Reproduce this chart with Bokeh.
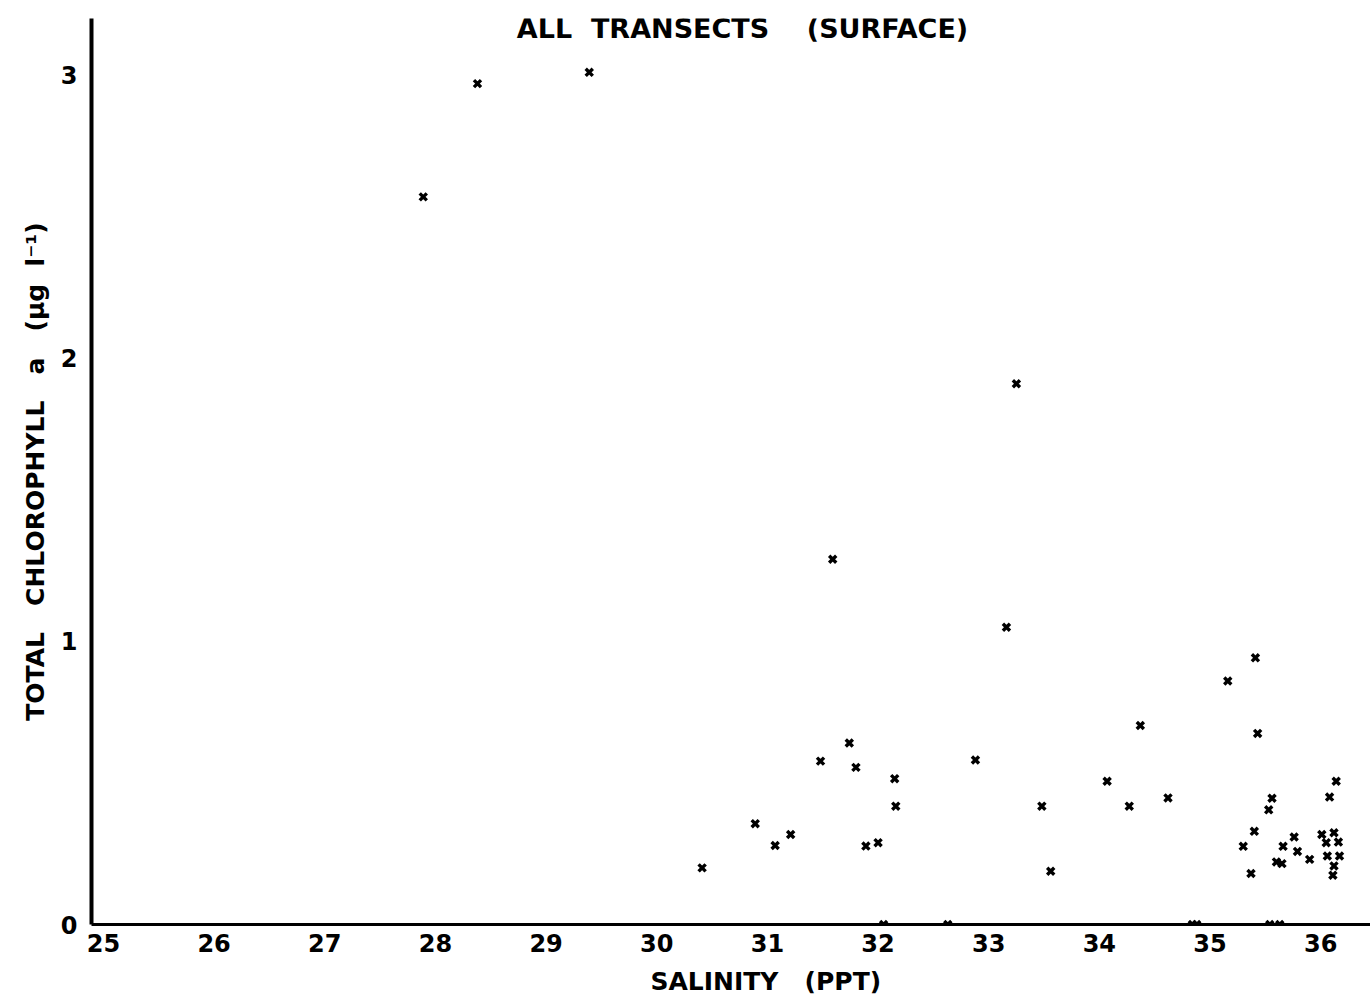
from bokeh.plotting import figure
from bokeh.models import Range1d, FixedTicker, Label
from bokeh.embed import file_html
from bokeh.resources import INLINE

# Data (salinity in ppt, total chlorophyll a in ug/l)
salinity = [27.89, 28.38, 29.39, 33.25, 31.59, 33.16,
            30.41, 30.89, 31.07, 31.21, 31.48, 31.74, 31.80, 31.89, 32.00,
            32.15, 32.16, 32.88, 33.48, 33.56, 34.07, 34.27, 34.37, 34.62,
            35.16, 35.41, 35.43, 35.56, 35.53, 35.40, 35.30, 35.37, 35.66,
            35.60, 35.65, 35.76, 35.79, 35.90, 36.01, 36.05, 36.12, 36.16,
            36.06, 36.17, 36.12, 36.11, 36.08, 36.14,
            32.05, 32.63, 34.84, 34.88, 35.54, 35.63]
chlorophyll = [2.57, 2.97, 3.01, 1.91, 1.29, 1.05,
               0.20, 0.356, 0.279, 0.318, 0.577, 0.641, 0.555, 0.277, 0.289,
               0.515, 0.418, 0.581, 0.418, 0.188, 0.506, 0.418, 0.703, 0.447,
               0.860, 0.942, 0.675, 0.446, 0.405, 0.329, 0.276, 0.180, 0.276,
               0.221, 0.215, 0.309, 0.258, 0.230, 0.318, 0.289, 0.324, 0.291,
               0.242, 0.242, 0.207, 0.174, 0.450, 0.506,
               0.0, 0.0, 0.0, 0.0, 0.0, 0.0]
x_ticks = [25, 26, 27, 28, 29, 30, 31, 32, 33, 34, 35, 36]
y_ticks = [0, 1, 2, 3]

NB = "\u00a0"
FONT = "DejaVu Sans"

p = figure(width=1370, height=1006, output_backend="svg", toolbar_location=None,
           x_range=Range1d(24.892, 36.45), y_range=Range1d(0, 3.2))
p.min_border_left = 91
p.min_border_right = 0
p.min_border_top = 18
p.min_border_bottom = 82
p.outline_line_color = None
p.background_fill_color = "white"
p.border_fill_color = "white"
p.xgrid.visible = False
p.ygrid.visible = False

p.scatter(salinity, chlorophyll, marker="x", size=10, line_width=3.4, color="black")

# axes
p.xaxis.ticker = FixedTicker(ticks=x_ticks)
p.yaxis.ticker = FixedTicker(ticks=y_ticks)
for ax in (p.xaxis, p.yaxis):
    ax.major_tick_line_color = None
    ax.minor_tick_line_color = None
    ax.major_label_text_font = FONT
    ax.major_label_text_font_style = "bold"
    ax.major_label_text_font_size = "24px"
    ax.major_label_text_color = "black"
    ax.axis_label_text_font = FONT
    ax.axis_label_text_font_style = "bold"
    ax.axis_label_text_color = "black"
    ax.axis_line_color = "black"
p.xaxis.axis_line_width = 3
p.yaxis.axis_line_width = 4
p.xaxis.major_label_standoff = 3
p.yaxis.major_label_standoff = 8
p.xaxis.axis_label = NB * 8 + "SALINITY" + NB * 3 + "(PPT)"
p.xaxis.axis_label_text_font_size = "25px"
p.xaxis.axis_label_standoff = 12
p.yaxis.axis_label = ("TOTAL" + NB * 3 + "CHLOROPHYLL" + NB * 3 + "a" + NB * 3
                      + "(µg" + NB * 2 + "l⁻¹)")
p.yaxis.axis_label_text_font_size = "25px"
p.yaxis.axis_label_standoff = 8

title = Label(x=30.775, y=3.166,
              text="ALL" + NB * 2 + "TRANSECTS" + NB * 4 + "(SURFACE)",
              text_align="center", text_baseline="middle",
              text_font=FONT, text_font_style="bold", text_font_size="27px",
              text_color="black")
p.add_layout(title)

open("out.html", "w").write(file_html(p, INLINE))
